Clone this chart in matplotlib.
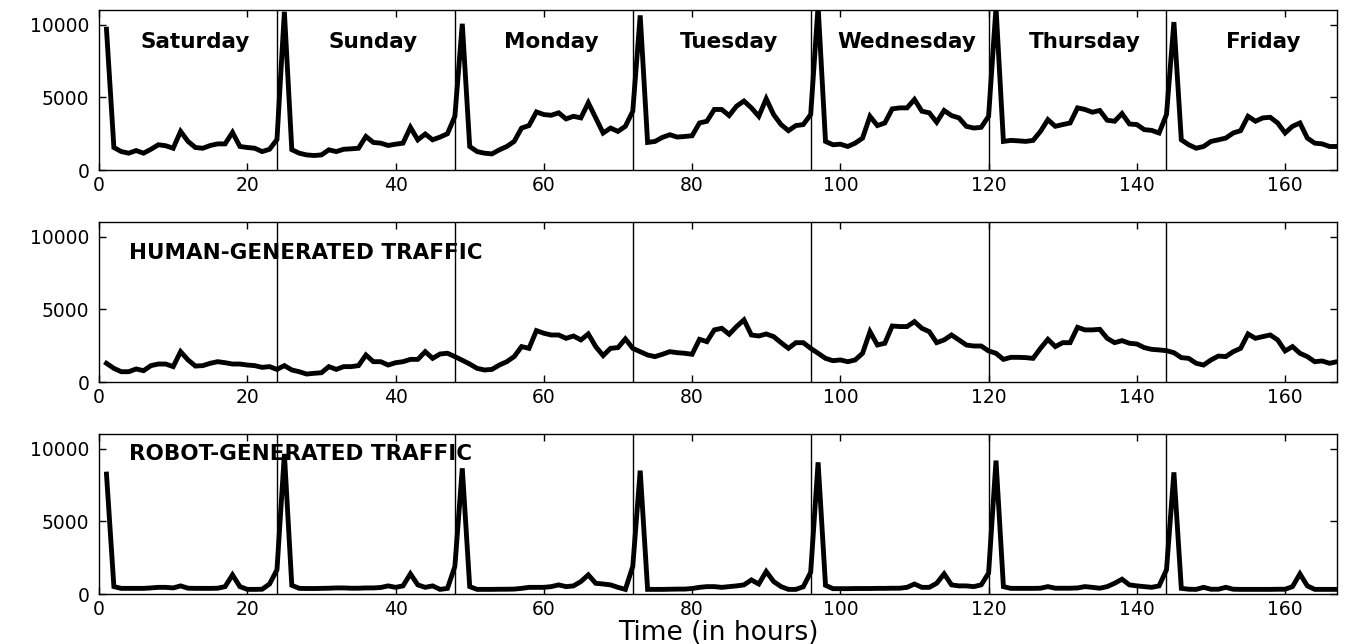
import numpy as np
import matplotlib
matplotlib.use("Agg")
from matplotlib import pyplot as plt

plt.rcParams['font.family'] = ['DejaVu Sans']

# hourly request counts, hours 1..167
hours = np.arange(1, 168)

total = [
    9700, 1550, 1270, 1160, 1340, 1160, 1430, 1740, 1670, 1500,
    2660, 1970, 1550, 1500, 1690, 1800, 1800, 2590, 1620, 1550,
    1500, 1270, 1430, 2100, 10900, 1400, 1160, 1040, 1000, 1040,
    1390, 1270, 1430, 1460, 1500, 2310, 1900, 1850, 1690, 1780,
    1850, 2940, 2080, 2480, 2080, 2270, 2500, 3700, 10070, 1620,
    1270, 1160, 1110, 1390, 1620, 1970, 2890, 3060, 4000, 3820,
    3770, 3940, 3520, 3700, 3590, 4630, 3590, 2550, 2890, 2660,
    3010, 4050, 10650, 1900, 1970, 2250, 2430, 2270, 2310, 2360,
    3240, 3360, 4170, 4170, 3750, 4400, 4750, 4280, 3700, 4910,
    3820, 3130, 2710, 3060, 3130, 3820, 11300, 1970, 1740, 1780,
    1620, 1850, 2200, 3700, 3060, 3240, 4210, 4280, 4280, 4860,
    4050, 3940, 3290, 4100, 3750, 3590, 3010, 2890, 2940, 3700,
    11200, 1970, 2040, 2010, 1970, 2040, 2660, 3470, 3010, 3130,
    3240, 4280, 4170, 3980, 4100, 3430, 3360, 3890, 3170, 3130,
    2780, 2730, 2550, 3820, 10190, 2080, 1740, 1500, 1620, 1970,
    2080, 2200, 2550, 2710, 3700, 3360, 3590, 3630, 3240, 2550,
    3010, 3240, 2200, 1850, 1800, 1620, 1620,
]

human = [
    1290, 940, 710, 710, 900, 780, 1130, 1240, 1240, 1060,
    2090, 1520, 1100, 1130, 1290, 1400, 1330, 1240, 1240, 1170,
    1130, 1010, 1060, 870, 1130, 830, 710, 550, 600, 640,
    1060, 870, 1060, 1060, 1130, 1860, 1400, 1400, 1170, 1330,
    1400, 1560, 1560, 2090, 1630, 1930, 1980, 1750, 1500, 1240,
    940, 830, 870, 1170, 1400, 1750, 2440, 2320, 3540, 3360,
    3240, 3240, 3010, 3170, 2900, 3310, 2440, 1820, 2320, 2370,
    2970, 2320, 2090, 1860, 1750, 1910, 2090, 2020, 1980, 1910,
    2940, 2780, 3590, 3700, 3290, 3820, 4280, 3240, 3170, 3310,
    3130, 2710, 2320, 2710, 2710, 2320, 1980, 1630, 1470, 1520,
    1400, 1520, 1980, 3470, 2550, 2670, 3860, 3820, 3820, 4160,
    3700, 3470, 2710, 2900, 3240, 2900, 2550, 2480, 2480, 2140,
    1980, 1560, 1700, 1700, 1680, 1630, 2320, 2940, 2440, 2710,
    2710, 3770, 3590, 3590, 3630, 3010, 2710, 2850, 2670, 2620,
    2370, 2250, 2210, 2160, 2020, 1680, 1630, 1290, 1170, 1520,
    1790, 1750, 2090, 2320, 3310, 3010, 3130, 3240, 2900, 2140,
    2440, 1980, 1750, 1400, 1450, 1290, 1400,
]

robot = [
    8260, 510, 390, 390, 390, 390, 420, 460, 460, 420,
    560, 400, 390, 390, 390, 400, 510, 1320, 510, 320,
    320, 330, 690, 1670, 9650, 600, 390, 380, 380, 390,
    400, 420, 420, 400, 400, 420, 420, 450, 560, 460,
    560, 1390, 630, 460, 560, 320, 390, 1900, 8660, 510,
    320, 320, 320, 330, 330, 340, 390, 460, 460, 460,
    510, 630, 510, 560, 860, 1320, 740, 690, 630, 460,
    320, 1900, 8500, 320, 320, 320, 330, 340, 340, 380,
    460, 510, 510, 460, 510, 560, 630, 970, 690, 1550,
    860, 510, 320, 320, 500, 1500, 9070, 600, 370, 370,
    370, 380, 380, 380, 390, 390, 400, 400, 460, 690,
    460, 460, 740, 1390, 630, 560, 560, 510, 630, 1440,
    9190, 510, 390, 390, 390, 390, 400, 510, 400, 400,
    400, 420, 510, 460, 400, 510, 740, 1020, 630, 560,
    510, 460, 560, 1670, 8380, 390, 330, 320, 460, 330,
    330, 460, 330, 320, 320, 320, 320, 320, 330, 330,
    510, 1390, 560, 320, 320, 320, 320,
]

days = ['Saturday', 'Sunday', 'Monday', 'Tuesday', 'Wednesday', 'Thursday', 'Friday']
day_bounds = [24, 48, 72, 96, 120, 144]
panel_labels = ['', 'HUMAN-GENERATED TRAFFIC', 'ROBOT-GENERATED TRAFFIC']

fig = plt.figure(figsize=(13.46, 6.44), dpi=100)
left, width = 0.0736, 0.9197
bottoms = [0.736, 0.4068, 0.0776]
height = 0.248

series = [total, human, robot]
axes = []
for i, (b, y) in enumerate(zip(bottoms, series)):
    ax = fig.add_axes([left, b, width, height])
    ax.plot(hours, y, color='black', lw=3.5, solid_joinstyle='miter')
    for d in day_bounds:
        ax.axvline(d, color='black', lw=1.0)
    ax.set_xlim(0, 167)
    ax.set_ylim(0, 11000)
    ax.set_xticks(range(0, 161, 20))
    ax.set_yticks([0, 5000, 10000])
    ax.tick_params(direction='in', length=5, width=1, top=True, right=True,
                   labelsize=13.5)
    ax.tick_params(axis='x', pad=4)
    ax.tick_params(axis='y', pad=7)
    for s in ax.spines.values():
        s.set_linewidth(1.0)
    if panel_labels[i]:
        ax.text(4, 8900 if i == 1 else 9650, panel_labels[i], fontsize=15.5,
                fontweight='bold', ha='left', va='center')
    axes.append(ax)

# day names on the top panel
starts = [0] + day_bounds
for name, s in zip(days, starts):
    axes[0].text(s + 13, 8800, name, fontsize=15.5, fontweight='bold',
                 ha='center', va='center')

fig.text(0.5334, 0.0062, 'Time (in hours)', fontsize=19, ha='center', va='baseline')

fig.savefig('out.png', dpi=100)
